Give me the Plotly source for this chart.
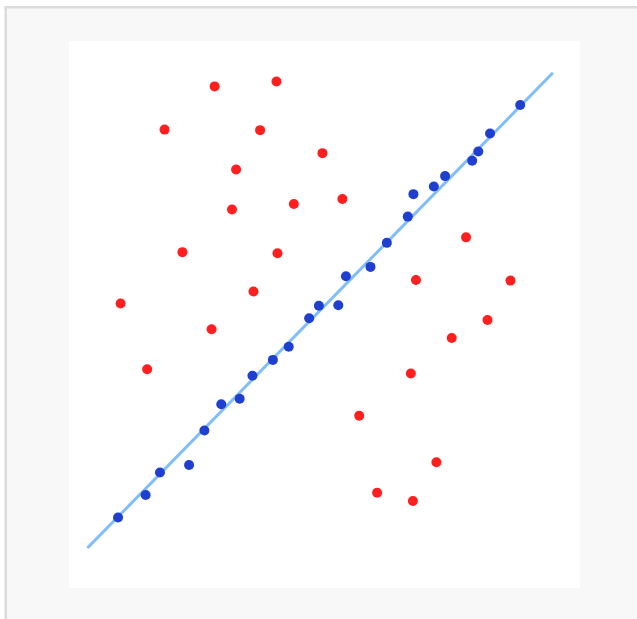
import plotly.graph_objects as go

# Outliers (red)
outlier_x = [2.85, 4.06, 1.87, 3.74, 4.96, 3.27, 3.19, 4.40, 5.35, 2.22, 4.08, 3.61, 1.01,
             2.79, 1.53, 7.77, 6.79, 8.64, 8.19, 7.49, 6.69, 5.68, 7.19, 6.03, 6.73]
outlier_y = [9.17, 9.26, 8.38, 8.37, 7.95, 7.65, 6.92, 7.02, 7.11, 6.14, 6.12, 5.42, 5.20,
             4.73, 4.00, 6.41, 5.63, 5.62, 4.90, 4.57, 3.92, 3.15, 2.30, 1.74, 1.59]

# Inliers (blue)
inlier_x = [0.96, 1.50, 1.78, 2.35, 2.65, 2.98, 3.34, 3.59, 3.99, 4.30, 4.70, 4.89,
            5.27, 5.42, 5.90, 6.22, 6.63, 6.74, 7.14, 7.36, 7.89, 8.01, 8.24, 8.83]
inlier_y = [1.29, 1.70, 2.11, 2.25, 2.88, 3.36, 3.46, 3.88, 4.17, 4.41, 4.93, 5.16,
            5.17, 5.70, 5.87, 6.31, 6.79, 7.20, 7.34, 7.53, 7.81, 7.98, 8.31, 8.83]

# Fitted line endpoints
fit_x = [0.36, 9.47]
fit_y = [0.73, 9.42]

fig = go.Figure()
fig.add_trace(go.Scatter(x=fit_x, y=fit_y, mode="lines",
                         line=dict(color="#80bdfc", width=3), hoverinfo="skip"))
fig.add_trace(go.Scatter(x=outlier_x, y=outlier_y, mode="markers",
                         marker=dict(color="#ff1f1f", size=10, line=dict(width=0)),
                         hoverinfo="skip"))
fig.add_trace(go.Scatter(x=inlier_x, y=inlier_y, mode="markers",
                         marker=dict(color="#1f3fd0", size=10, line=dict(width=0)),
                         hoverinfo="skip"))

L, R, T, B = 69, 57, 41, 31
W, H = 637, 619
pw, ph = W - L - R, H - T - B

def px(x):
    return (x - L) / pw

def py(y):
    return (H - B - y) / ph

shapes = [
    # white outside strips
    dict(type="rect", xref="paper", yref="paper", x0=px(-2), x1=px(4.5), y0=py(H + 2), y1=py(-2),
         fillcolor="white", line=dict(width=0), layer="above"),
    dict(type="rect", xref="paper", yref="paper", x0=px(-2), x1=px(W + 2), y0=py(6), y1=py(-2),
         fillcolor="white", line=dict(width=0), layer="above"),
    # gray border lines
    dict(type="rect", xref="paper", yref="paper", x0=px(4.5), x1=px(7), y0=py(H + 2), y1=py(6),
         fillcolor="#dcdcdc", line=dict(width=0), layer="above"),
    dict(type="rect", xref="paper", yref="paper", x0=px(4.5), x1=px(W + 2), y0=py(8.5), y1=py(6),
         fillcolor="#dcdcdc", line=dict(width=0), layer="above"),
]

axis = dict(range=[0, 10], showgrid=False, zeroline=False, showticklabels=False,
            ticks="", showline=False, fixedrange=True)
fig.update_layout(
    width=W, height=H,
    margin=dict(l=L, r=R, t=T, b=B),
    paper_bgcolor="#f8f8f8", plot_bgcolor="white",
    showlegend=False,
    xaxis=axis, yaxis=axis,
    shapes=shapes,
)
fig.write_html("out.html", config={"displayModeBar": False},
               post_script="document.body.style.margin='0px';document.body.style.overflow='hidden';")
